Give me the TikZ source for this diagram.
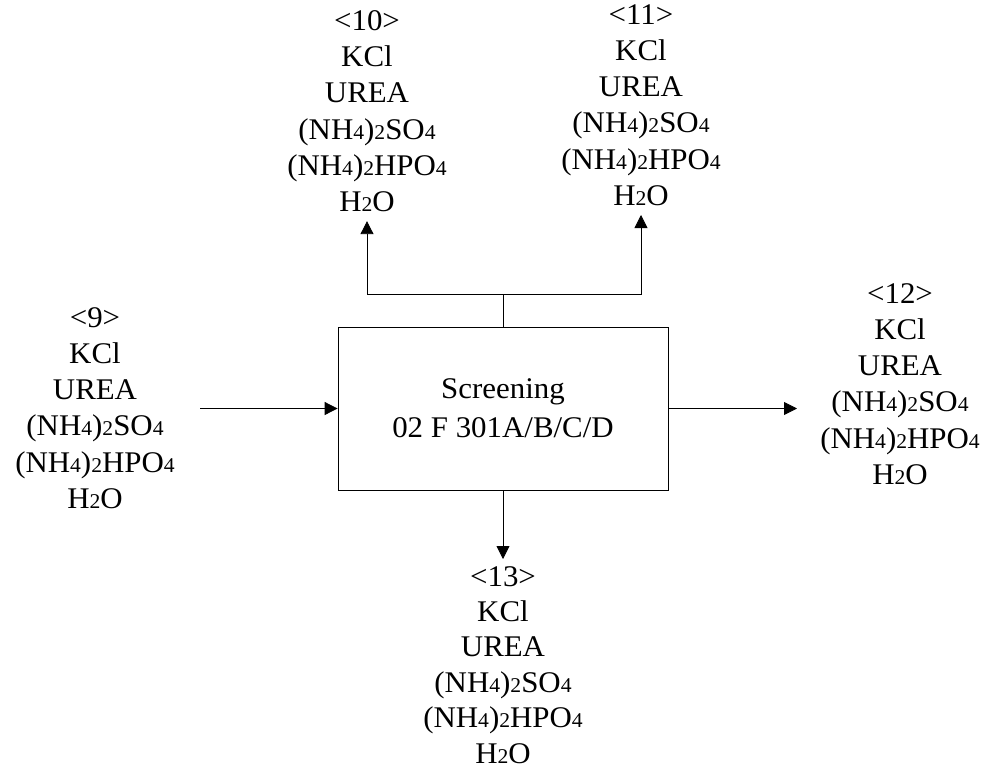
\documentclass[tikz,border=0pt]{standalone}
\usepackage{fontspec}
\setmainfont[FakeStretch=1.03]{Liberation Serif}
\usetikzlibrary{arrows.meta}
\newcommand\sd[1]{{\fontsize{21}{21}\selectfont #1}}
\newcommand\streamtext[1]{<#1>\\KCl\\UREA\\(NH\sd4)\sd2SO\sd4\\(NH\sd4)\sd2HPO\sd4\\H\sd2O}
\tikzset{
  stream/.style={anchor=north, inner sep=0pt, align=center, font=\fontsize{30}{36.3}\selectfont},
  tightstream/.style={stream, font=\fontsize{30}{35.4}\selectfont},
  unitbox/.style={draw, line width=0.8pt, minimum width=330pt, minimum height=163pt, inner sep=0pt, align=center, font=\fontsize{30}{39}\selectfont},
  pipe/.style={line width=0.8pt},
  flow/.style={pipe, -{Triangle[length=13pt,width=13pt]}}
}
\begin{document}
\begin{tikzpicture}[x=1pt,y=-1pt]
\useasboundingbox (0,0) rectangle (989,769);
\node[unitbox] (box) at (503,408.5) {Screening\\02 F 301A/B/C/D};
\node[stream] (n10) at (367,10) {\streamtext{10}};
\node[stream] (n11) at (641,4) {\streamtext{11}};
\node[stream] (n12) at (900,283) {\streamtext{12}};
\node[stream] (n9) at (95,307) {\streamtext{9}};
\node[tightstream] (n13) at (503,566) {\streamtext{13}};
\coordinate (j) at (503,294);
\coordinate (in9) at (200,408.5);
\coordinate (out12) at (797,408.5);
\draw[pipe] (box.north) -- (j);
\draw[flow, shorten >=9pt] (j) -| (n10.south);
\draw[flow, shorten >=9pt] (j) -| (n11.south);
\draw[flow] (in9) -- (box.west);
\draw[flow] (box.east) -- (out12);
\draw[flow, shorten >=7pt] (box.south) -- (n13.north);
\end{tikzpicture}
\end{document}
